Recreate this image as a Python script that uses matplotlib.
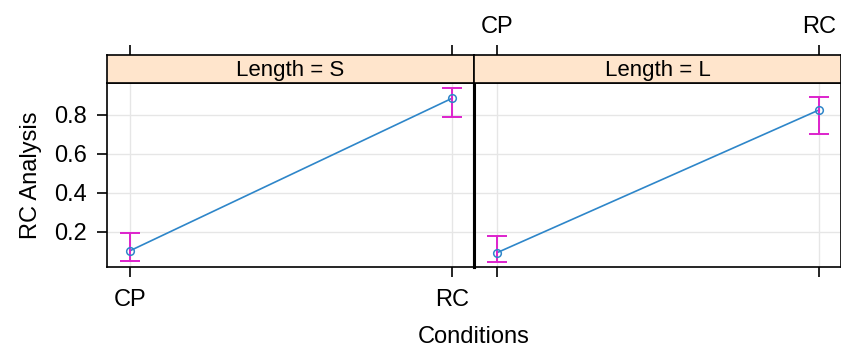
import matplotlib
matplotlib.use("Agg")
import matplotlib.pyplot as plt

plt.rcParams['font.family'] = ['Liberation Sans', 'DejaVu Sans']

conditions = ["CP", "RC"]
panels = ["Length = S", "Length = L"]
means = {"Length = S": [0.102, 0.886], "Length = L": [0.092, 0.826]}
lower = {"Length = S": [0.051, 0.791], "Length = L": [0.043, 0.702]}
upper = {"Length = S": [0.192, 0.940], "Length = L": [0.178, 0.894]}
yticks = [0.2, 0.4, 0.6, 0.8]
ylim = (0.0185, 0.9645)
xlim = (-0.0714, 1.068)

W, H = 841, 349
fig = plt.figure(figsize=(W / 100, H / 100), dpi=100)

def frac(x0, y0, x1, y1):
    return [x0 / W, (H - y1) / H, (x1 - x0) / W, (y1 - y0) / H]

FS = 17
line_col = "#2E86C9"
err_col = "#DD22CC"
grid_col = "#E6E6E6"
tick_len = 7.2

panel_x = [(107, 474), (474, 841)]
for i, name in enumerate(panels):
    x0, x1 = panel_x[i]
    ax = fig.add_axes(frac(x0, 83, x1, 267))
    sx = fig.add_axes(frac(x0, 55, x1, 83))
    xs = list(range(len(conditions)))
    m = means[name]
    lo = [a - b for a, b in zip(m, lower[name])]
    hi = [b - a for a, b in zip(m, upper[name])]
    for xv in xs:
        ax.axvline(xv, color=grid_col, lw=1, zorder=0)
    for yv in yticks:
        ax.axhline(yv, color=grid_col, lw=1, zorder=0)
    ax.plot(xs, m, color=line_col, lw=1.2, zorder=2)
    ax.errorbar(xs, m, yerr=[lo, hi], fmt="none", ecolor=err_col,
                elinewidth=1.4, capsize=7.2, capthick=1.4, zorder=3)
    ax.plot(xs, m, "o", mfc="none", mec=line_col, ms=5.5, mew=1.1, zorder=4)
    ax.set_xlim(*xlim)
    ax.set_ylim(*ylim)
    ax.set_xticks(xs)
    ax.set_yticks(yticks)
    ax.tick_params(axis="both", direction="out", length=tick_len, width=1.2,
                   labelsize=FS, colors="black")
    ax.tick_params(axis="x", pad=9)
    ax.tick_params(axis="y", pad=7)
    if i == 0:
        ax.set_xticklabels(conditions)
        ax.set_yticklabels([f"{v:.1f}" for v in yticks])
        ax.set_ylabel("RC Analysis", fontsize=FS, labelpad=9)
    else:
        ax.set_xticklabels(["", ""])
        ax.tick_params(axis="y", left=False, labelleft=False)
    for sp in ax.spines.values():
        sp.set_linewidth(1.2)
    if i == 0:
        ax.spines["right"].set_linewidth(2.2)
    else:
        ax.spines["left"].set_linewidth(2.2)

    sx.set_facecolor("#FFE5CC")
    sx.set_xlim(*xlim)
    sx.set_ylim(0, 1)
    sx.set_yticks([])
    sx.set_xticks(xs)
    sx.xaxis.set_ticks_position("top")
    sx.tick_params(axis="x", direction="out", length=tick_len, width=1.2,
                   labelsize=FS, pad=5, top=True, bottom=False,
                   labeltop=(i == 1), labelbottom=False)
    if i == 1:
        sx.set_xticklabels(conditions)
    sx.text(0.5, 0.45, name, transform=sx.transAxes, ha="center", va="center",
            fontsize=16)
    for sp in sx.spines.values():
        sp.set_linewidth(1.2)

fig.text(474 / W, 1 - 337 / H, "Conditions", ha="center", va="center",
         fontsize=FS)

fig.savefig("out.png", dpi=100)
